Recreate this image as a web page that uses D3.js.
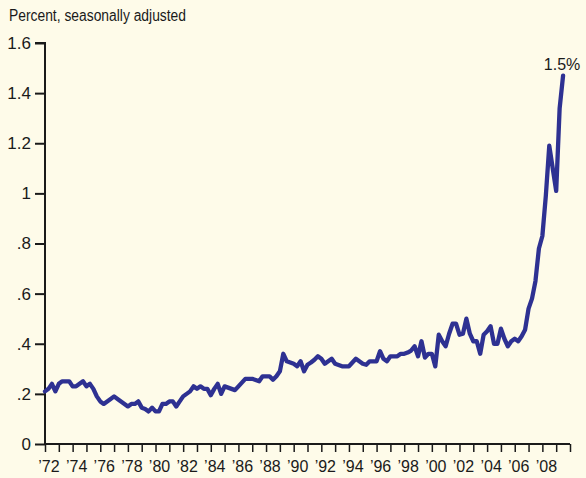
<!DOCTYPE html>
<html>
<head>
<meta charset="utf-8">
<script src="https://cdn.jsdelivr.net/npm/d3@7"></script>
<style>
  html, body { margin: 0; padding: 0; background: #fefbe9; }
  svg { display: block; }
  text { font-family: "Liberation Sans Narrow", "Liberation Sans", Arial, sans-serif; fill: #1a1a1a; }
</style>
</head>
<body>
<svg id="chart" width="586" height="478"></svg>
<script>
// Quarterly values, 1972 Q1 onward (percent, seasonally adjusted)
const startYear = 1972;
const values = [
  0.21, 0.22, 0.24, 0.21, 0.24, 0.25, 0.25, 0.25,
  0.23, 0.23, 0.24, 0.25, 0.23, 0.24, 0.22, 0.19,
  0.17, 0.16, 0.17, 0.18, 0.19, 0.18, 0.17, 0.16,
  0.15, 0.16, 0.16, 0.17, 0.145, 0.14, 0.13, 0.145,
  0.13, 0.13, 0.16, 0.16, 0.17, 0.17, 0.15, 0.17,
  0.19, 0.20, 0.21, 0.23, 0.22, 0.23, 0.22, 0.22,
  0.195, 0.22, 0.24, 0.20, 0.23, 0.225, 0.22, 0.215,
  0.23, 0.245, 0.26, 0.26, 0.26, 0.255, 0.25, 0.27,
  0.27, 0.27, 0.256, 0.27, 0.29, 0.36, 0.33, 0.325,
  0.32, 0.31, 0.33, 0.29, 0.316, 0.325, 0.336, 0.35,
  0.34, 0.32, 0.33, 0.34, 0.32, 0.315, 0.31, 0.31,
  0.31, 0.325, 0.34, 0.33, 0.32, 0.316, 0.33, 0.33,
  0.33, 0.37, 0.34, 0.33, 0.35, 0.35, 0.35, 0.36,
  0.36, 0.365, 0.373, 0.39, 0.35, 0.41, 0.345, 0.36,
  0.36, 0.31, 0.436, 0.41, 0.39, 0.44, 0.48, 0.48,
  0.436, 0.44, 0.50, 0.44, 0.41, 0.41, 0.36, 0.436,
  0.45, 0.47, 0.40, 0.40, 0.46, 0.42, 0.39, 0.41,
  0.42, 0.41, 0.43, 0.456, 0.54, 0.58, 0.65, 0.78,
  0.83, 0.99, 1.19, 1.10, 1.01, 1.34, 1.47
];
const yTicks = [0, 0.2, 0.4, 0.6, 0.8, 1, 1.2, 1.4, 1.6];
const yTickLabels = ["0", ".2", ".4", ".6", ".8", "1", "1.2", "1.4", "1.6"];
const xTickYears = d3.range(1972, 2011);
const xLabelYears = d3.range(1972, 2009, 2);
const title = "Percent, seasonally adjusted";
const endLabel = "1.5%";

const svg = d3.select("#chart");
const x = d3.scaleLinear().domain([1972, 2010]).range([45, 570]);
const y = d3.scaleLinear().domain([0, 1.6]).range([444, 43]);

const data = values.map((v, i) => ({ t: startYear + i / 4, v }));

// title
svg.append("text").attr("x", 9).attr("y", 21)
  .style("font-size", "16px")
  .attr("textLength", 177).attr("lengthAdjust", "spacingAndGlyphs")
  .text(title);

// y axis
const yAxis = d3.axisLeft(y).tickValues(yTicks)
  .tickFormat((d, i) => yTickLabels[i])
  .tickSize(10).tickPadding(4);
const gy = svg.append("g").attr("transform", "translate(45,0)").call(yAxis);
gy.select(".domain").attr("d", "M-10,43H0V444").attr("stroke", "#1a1a1a").attr("stroke-width", 2).attr("fill", "none");
gy.selectAll(".tick line").attr("stroke", "#1a1a1a").attr("stroke-width", 2);
gy.selectAll(".tick text").style("font-size", "17px").style("font-family", "'Liberation Sans', Arial, sans-serif").attr("fill", "#1a1a1a");

// x axis
const xAxis = d3.axisBottom(x).tickValues(xTickYears).tickFormat("").tickSize(8);
const gx = svg.append("g").attr("transform", "translate(0,444)").call(xAxis);
gx.select(".domain").attr("d", "M44,0H570").attr("stroke", "#1a1a1a").attr("stroke-width", 2);
gx.selectAll(".tick line").attr("stroke", "#1a1a1a").attr("stroke-width", 1.5);

svg.append("g").selectAll("text").data(xLabelYears).join("text")
  .attr("x", d => x(d) + 4).attr("y", 472)
  .attr("text-anchor", "middle")
  .style("font-size", "16px")
  .style("font-family", "'Liberation Sans', Arial, sans-serif")
  .text(d => "\u2019" + String(d).slice(2));

// line
const line = d3.line().x(d => x(d.t)).y(d => y(d.v));
svg.append("path").datum(data)
  .attr("d", line)
  .attr("fill", "none")
  .attr("stroke", "#2e3192")
  .attr("stroke-width", 4.3)
  .attr("stroke-linejoin", "round")
  .attr("stroke-linecap", "round");

// end label
const last = data[data.length - 1];
svg.append("text").attr("x", x(last.t) - 1).attr("y", 70)
  .attr("text-anchor", "middle")
  .style("font-size", "16px")
  .style("font-family", "'Liberation Sans', Arial, sans-serif")
  .text(endLabel);
</script>
</body>
</html>
